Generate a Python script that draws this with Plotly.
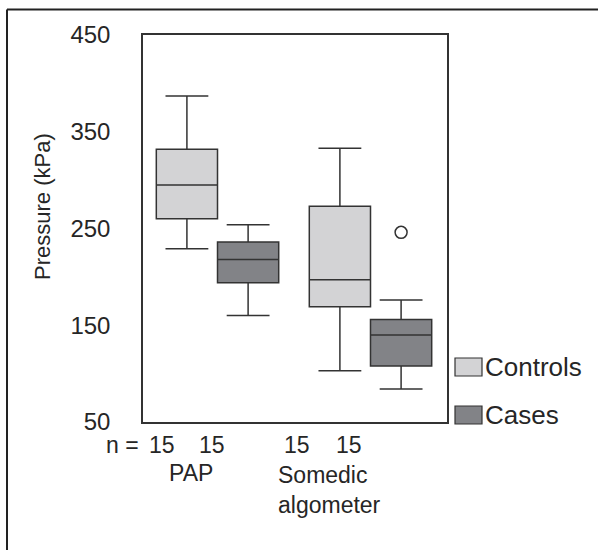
import plotly.graph_objects as go

# ---- data ----
categories = ["PAP", "Somedic<br>algometer"]
groups = ["Controls", "Cases"]
controls_q1 = [260, 169]
controls_median = [295, 197]
controls_q3 = [332, 273]
controls_lower = [229, 103]
controls_upper = [387, 333]
cases_q1 = [194, 108]
cases_median = [218, 140]
cases_q3 = [236, 156]
cases_lower = [160, 84]
cases_upper = [254, 176]
outlier_category = [1]          # Somedic algometer, Cases
outlier_values = [246]
n_counts = [15, 15, 15, 15]
y_ticks = [50, 150, 250, 350, 450]

FONT = "Liberation Sans, Arial, Helvetica, sans-serif"
TXT = "#262626"
LINE = "#333333"
LIGHT = "#d3d3d5"
DARK = "#828387"

offset = 0.2
width = 0.4
cat_idx = list(range(len(categories)))

fig = go.Figure()
fig.add_trace(go.Box(
    x=[i - offset for i in cat_idx], q1=controls_q1, median=controls_median, q3=controls_q3,
    lowerfence=controls_lower, upperfence=controls_upper, width=width, whiskerwidth=0.7,
    fillcolor=LIGHT, line=dict(color=LINE, width=1.5), boxpoints=False, name=groups[0],
    showlegend=False))
fig.add_trace(go.Box(
    x=[i + offset for i in cat_idx], q1=cases_q1, median=cases_median, q3=cases_q3,
    lowerfence=cases_lower, upperfence=cases_upper, width=width, whiskerwidth=0.7,
    fillcolor=DARK, line=dict(color=LINE, width=1.5), boxpoints=False, name=groups[1],
    showlegend=False))
fig.add_trace(go.Scatter(
    x=[i + offset for i in outlier_category], y=outlier_values, mode="markers",
    marker=dict(symbol="circle-open", size=12, color=LINE, line=dict(width=1.5)),
    showlegend=False, hoverinfo="y"))

# plot area in pixels: x 143..447, y 35..422
L, R, T, B = 143, 447, 35, 422
def px(xp):
    return (xp - L) / (R - L)
def py(yp):
    return (B - yp) / (B - T)

def note(text, x, y, size, xanchor="center", yanchor="middle", **kw):
    return dict(text=text, xref="paper", yref="paper", x=px(x), y=py(y),
                xanchor=xanchor, yanchor=yanchor, showarrow=False,
                font=dict(size=size, color=TXT, family=FONT), **kw)

annotations = []
annotations.append(note("Pressure (kPa)", 42, 207, 22, textangle=-90))
annotations.append(note("n =", 141, 445, 23, xanchor="right"))
n_pos = [162, 212, 297, 349]
for n, xp in zip(n_counts, n_pos):
    annotations.append(note(str(n), xp, 445, 23))
annotations.append(note(categories[0], 191, 473, 23))
annotations.append(note(categories[1], 276, 460, 23, xanchor="left", yanchor="top", align="left"))
leg_y = [367, 415]
for g, yp in zip(groups, leg_y):
    annotations.append(note(g, 483, yp, 26, xanchor="left"))

shapes = []
for col, yp in zip([LIGHT, DARK], leg_y):
    shapes.append(dict(type="rect", xref="paper", yref="paper", x0=px(455), x1=px(482),
                       y0=py(yp + 9), y1=py(yp - 9), fillcolor=col, line=dict(color=LINE, width=1.2)))
# outer frame (top and left edges)
shapes.append(dict(type="line", xref="paper", yref="paper", x0=px(7), x1=px(610),
                   y0=py(9.5), y1=py(9.5), line=dict(color="#222222", width=2)))
shapes.append(dict(type="line", xref="paper", yref="paper", x0=px(7), x1=px(7),
                   y0=py(9.5), y1=py(560), line=dict(color="#222222", width=2)))

fig.update_layout(
    width=598, height=550,
    margin=dict(l=L, r=598 - R, t=T, b=550 - B),
    paper_bgcolor="white", plot_bgcolor="white",
    boxmode="overlay",
    showlegend=False,
    annotations=annotations, shapes=shapes,
    xaxis=dict(range=[-0.487, 1.5], showticklabels=False, ticks="", showgrid=False, zeroline=False,
               showline=True, mirror=True, linecolor=LINE, linewidth=1.5),
    yaxis=dict(range=[50, 450], tickvals=y_ticks, ticks="", showgrid=False, zeroline=False,
               showline=True, mirror=True, linecolor=LINE, linewidth=1.5, automargin=False,
               ticklabelstandoff=26, tickfont=dict(size=24, color=TXT, family=FONT)),
)

fig.write_html("out.html", config={"displayModeBar": False},
               post_script="document.body.style.margin='0';document.body.style.overflow='hidden';")
